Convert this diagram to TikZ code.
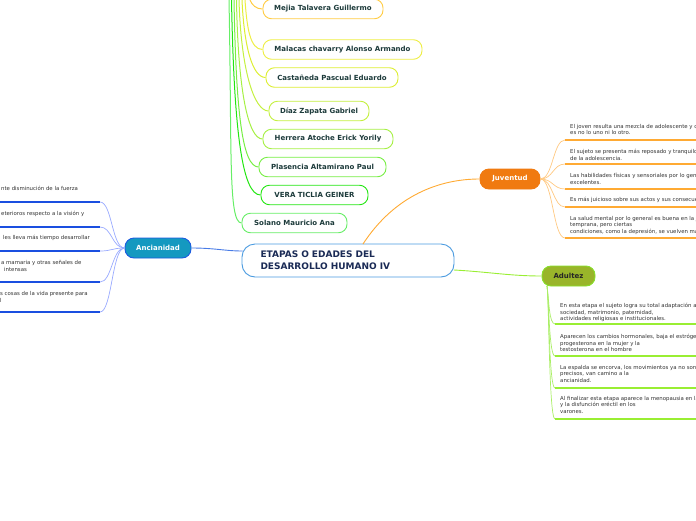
\documentclass[tikz,border=0pt]{standalone}
\usepackage{fontspec}
\setmainfont{DejaVu Sans}
\definecolor{namecol}{HTML}{1D3B3B}
\definecolor{txtcol}{HTML}{333333}
\definecolor{navy}{HTML}{1A2A55}
\definecolor{cbord}{HTML}{4A9BE0}
\definecolor{juvfill}{HTML}{F07A10}
\definecolor{juvline}{HTML}{FFAA33}
\definecolor{juvfan}{HTML}{FFC880}
\definecolor{adufill}{HTML}{99B52A}
\definecolor{adubord}{HTML}{88E02A}
\definecolor{aduline}{HTML}{99EE33}
\definecolor{adufan}{HTML}{AAEE66}
\definecolor{ancfill}{HTML}{1499C0}
\definecolor{ancbord}{HTML}{1A5AE0}
\definecolor{ancline}{HTML}{1A4FE0}
\definecolor{ancfan}{HTML}{99AAFF}
\definecolor{cMejia}{HTML}{FFCC44}
\definecolor{cMalacas}{HTML}{EEEE44}
\definecolor{cCast}{HTML}{DDEE33}
\definecolor{cDiaz}{HTML}{C4F040}
\definecolor{cHerr}{HTML}{A6F044}
\definecolor{cPlas}{HTML}{77EE44}
\definecolor{cVera}{HTML}{22E611}
\definecolor{cSolano}{HTML}{66EE66}
\begin{document}
\begin{tikzpicture}[x=1pt,y=-1pt,
  namebox/.style={draw, rounded corners=8.5pt, fill=white, line width=0.9pt,
    font=\bfseries\fontsize{7}{8}\selectfont, text=namecol, minimum height=19.5pt, inner sep=0pt},
  topic/.style={draw, rounded corners=9pt, line width=0.9pt, text=white,
    font=\bfseries\fontsize{7}{8}\selectfont, minimum height=20pt, inner sep=0pt},
  small/.style={anchor=north west, inner sep=0pt, align=left, text=txtcol,
    font=\fontsize{5.4}{6.5}\selectfont},
  lsmall/.style={anchor=west, inner sep=0pt, text=txtcol, font=\fontsize{5.4}{6.5}\selectfont},
  fanline/.style={line width=0.7pt},
  nameline/.style={line width=1pt},
  uline/.style={line width=1.5pt}]
\useasboundingbox (0,0) rectangle (696,520);
\begin{scope}
\clip (0,0) rectangle (696,520);

% ---- name nodes (children of an off-page parent)
\node[namebox, draw=cMejia, minimum width=120pt] (mejia) at (323,9) {Mejia Talavera Guillermo};
\node[namebox, draw=cMalacas, minimum width=159pt] (malacas) at (342.5,49.5) {Malacas chavarry Alonso Armando};
\node[namebox, draw=cCast, minimum width=132pt] (cast) at (332,77.5) {Castañeda Pascual Eduardo};
\node[namebox, draw=cDiaz, minimum width=100pt] (diaz) at (319,111) {Díaz Zapata Gabriel};
\node[namebox, draw=cHerr, minimum width=130pt] (herr) at (328,139) {Herrera Atoche Erick Yorily};
\node[namebox, draw=cPlas, minimum width=127pt] (plas) at (322.5,167) {Plasencia Altamirano Paul};
\node[namebox, draw=cVera, minimum width=107pt] (vera) at (314.5,195) {VERA TICLIA GEINER};
\node[namebox, draw=cSolano, minimum width=105pt] (solano) at (294.5,223) {Solano Mauricio Ana};

\coordinate (pSolano) at (229,0);
\coordinate (pVera) at (231.5,0);
\coordinate (pPlas) at (234,0);
\coordinate (pHerr) at (236.5,0);
\coordinate (pDiaz) at (239,0);
\coordinate (pCast) at (242,0);
\coordinate (pMalacas) at (245,0);
\coordinate (pMejia) at (250,0);

\draw[nameline, cSolano] (pSolano) .. controls (232,150) and (228,223) .. (solano.west);
\draw[nameline, cVera] (pVera) .. controls (234,130) and (242,195) .. (vera.west);
\draw[nameline, cPlas] (pPlas) .. controls (236,110) and (242,167) .. (plas.west);
\draw[nameline, cHerr] (pHerr) .. controls (238,90) and (248,139) .. (herr.west);
\draw[nameline, cDiaz] (pDiaz) .. controls (241,70) and (254,111) .. (diaz.west);
\draw[nameline, cCast] (pCast) .. controls (244,45) and (252,77.5) .. (cast.west);
\draw[nameline, cMalacas] (pMalacas) .. controls (247,28) and (250,49.5) .. (malacas.west);
\draw[nameline, cMejia] (pMejia) .. controls (252,5) and (256,9) .. (mejia.west);

% ---- central node
\node[draw=cbord, fill=white, rounded corners=13pt, line width=0.9pt, text=navy,
  font=\bfseries\fontsize{9}{12}\selectfont, align=left, text width=175pt,
  inner xsep=18.5pt, minimum height=33pt] (center) at (348,260.5)
  {\raisebox{-1.5pt}{ETAPAS O EDADES DEL}\\\raisebox{-1.5pt}{DESARROLLO HUMANO IV}};

% ---- main topics
\node[topic, fill=juvfill, draw=juvfill, minimum width=60pt] (juv) at (510,179) {Juventud};
\node[topic, fill=adufill, draw=adubord, text=black!85, minimum width=53pt] (adu) at (568.5,276) {Adultez};
\node[topic, fill=ancfill, draw=ancbord, minimum width=66pt] (anc) at (158,248) {Ancianidad};

\coordinate (cTop) at (363,244);
\coordinate (cLeft) at (242.5,251);
\coordinate (cRight) at (454,270);
\draw[line width=0.9pt, juvline] (cTop) .. controls (395,195) and (440,179) .. (juv.west);
\draw[line width=0.9pt, ancbord!80] (anc.east) .. controls (215,248) and (225,251) .. (cLeft);
\draw[line width=0.9pt, aduline] (cRight) .. controls (490,272) and (510,276) .. (adu.west);

% ---- Juventud children
\coordinate (j1) at (565,140);
\coordinate (j2) at (565,164);
\coordinate (j3) at (565,189);
\coordinate (j4) at (565,207);
\coordinate (j5) at (565,238);
\coordinate (je1) at (696,140);
\coordinate (je2) at (696,164);
\coordinate (je3) at (696,189);
\coordinate (je4) at (696,207);
\coordinate (je5) at (696,238);
\foreach \k in {1,...,5}{
  \draw[fanline, juvfan] (juv.east) .. controls (553,179) and (553,0|-j\k) .. (j\k);
  \draw[uline, juvline] (j\k) -- (je\k);
}
\node[small] (jt1) at (570,124) {El joven resulta una mezcla de adolescente y de adulto, pero\\es no lo uno ni lo otro.};
\node[small] (jt2) at (570,149) {El sujeto se presenta más reposado y tranquilo que en la etapa\\de la adolescencia.};
\node[small] (jt3) at (570,173) {Las habilidades físicas y sensoriales por lo general son\\excelentes.};
\node[small] (jt4) at (570,197) {Es más juicioso sobre sus actos y sus consecuencias.};
\node[small] (jt5) at (570,216) {La salud mental por lo general es buena en la juventud\\temprana, pero ciertas\\condiciones, como la depresión, se vuelven más comunes.};

% ---- Adultez children
\coordinate (a1) at (555,324);
\coordinate (a2) at (555,356);
\coordinate (a3) at (555,388);
\coordinate (a4) at (555,419);
\coordinate (ae1) at (696,324);
\coordinate (ae2) at (696,356);
\coordinate (ae3) at (696,388);
\coordinate (ae4) at (696,419);
\coordinate (aduSrc) at (547,286);
\foreach \k in {1,...,4}{
  \draw[fanline, adufan] (aduSrc) .. controls (549,300) and (549,0|-a\k) .. (a\k);
  \draw[uline, aduline] (a\k) -- (ae\k);
}
\node[small] (at1) at (560,303) {En esta etapa el sujeto logra su total adaptación a la\\sociedad, matrimonio, paternidad,\\actividades religiosas e institucionales.};
\node[small] (at2) at (560,334) {Aparecen los cambios hormonales, baja el estrógeno y la\\progesterona en la mujer y la\\testosterona en el hombre};
\node[small] (at3) at (560,365) {La espalda se encorva, los movimientos ya no son tan\\precisos, van camino a la\\ancianidad.};
\node[small] (at4) at (560,396) {Al finalizar esta etapa aparece la menopausia en la mujer\\y la disfunción eréctil en los\\varones.};

% ---- Ancianidad children
\coordinate (n1) at (100,202);
\coordinate (n2) at (100,227);
\coordinate (n3) at (100,251);
\coordinate (n4) at (100,282);
\coordinate (n5) at (100,312);
\coordinate (ne1) at (0,202);
\coordinate (ne2) at (0,227);
\coordinate (ne3) at (0,251);
\coordinate (ne4) at (0,282);
\coordinate (ne5) at (0,312);
\foreach \k in {1,...,5}{
  \draw[fanline, ancfan] (anc.west) .. controls (112,248) and (112,0|-n\k) .. (n\k);
  \draw[uline, ancline] (n\k) -- (ne\k);
}
\node[lsmall] (nt1) at (1,188) {nte disminución de la fuerza};
\node[lsmall] (nt2) at (1,214) {eterioros respecto a la visión y};
\node[lsmall] (nt3) at (3,238) {les lleva más tiempo desarrollar};
\node[lsmall] (nt4a) at (1,263) {a mamaria y otras señales de};
\node[lsmall] (nt4b) at (4,269.5) {intensas};
\node[lsmall] (nt5a) at (0,294) {s cosas de la vida presente para};
\node[lsmall] (nt5b) at (0,300.5) {l};
\end{scope}
\end{tikzpicture}
\end{document}
